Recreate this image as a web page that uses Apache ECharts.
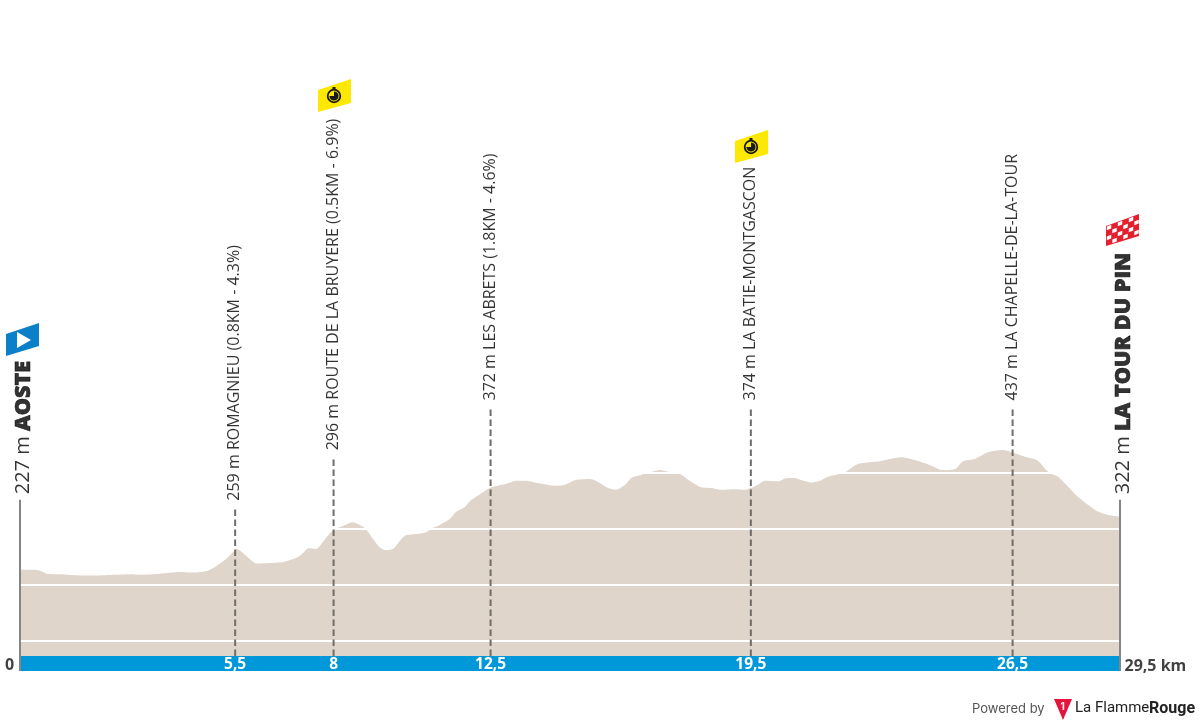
<!DOCTYPE html>
<html>
<head>
<meta charset="utf-8">
<style>html,body{margin:0;padding:0;background:#fff}#c{width:1200px;height:725px}</style>
<script src="https://cdn.jsdelivr.net/npm/echarts@6/dist/echarts.min.js"></script>
</head>
<body>
<div id="c"></div>
<script>
const profileKm = [0,0.40,0.62,0.72,1.07,1.61,2.15,2.55,2.95,3.22,3.75,4.29,4.56,5.01,5.23,5.50,5.69,5.82,6.03,6.36,6.70,7.05,7.43,7.59,7.75,7.94,8.18,8.39,8.72,8.93,9.17,9.33,9.49,9.63,9.79,10.00,10.19,10.32,10.51,10.86,11.08,11.26,11.53,11.69,11.93,12.07,12.39,12.60,13.01,13.33,13.54,13.95,14.35,14.62,14.88,15.29,15.50,15.77,15.96,16.23,16.41,16.63,16.95,17.16,17.38,17.70,17.89,18.24,18.56,18.77,19.17,19.44,19.60,19.79,19.98,20.33,20.57,20.78,20.92,21.24,21.45,21.62,22.12,22.47,23.06,23.63,24.00,24.40,24.73,25.08,25.29,25.61,25.96,26.36,26.60,26.95,27.27,27.54,27.68,27.84,28.11,28.35,28.64,28.88,29.18,29.5];
const profileElevation = [227,227,223,220,219,217,217,218,219,218,220,223,222,225,232,245,257,264,254,238,239,241,249,257,266,264,282,297,307,312,305,295,280,268,262,264,279,288,290,293,302,307,318,330,339,350,364,373,380,386,386,381,377,379,387,389,384,373,370,379,392,396,402,405,402,398,389,375,373,370,371,370,373,379,386,385,391,391,388,383,386,392,401,416,421,428,423,414,405,407,421,425,437,441,437,429,423,404,398,393,375,359,343,332,325,322];
const gridElevations = [100,200,300,400];
const waypointKm = [5.77,8.41,12.62,19.60,26.62];
const waypointTick = ['5,5','8','12,5','19,5','26,5'];
const waypointLeaderTop = [337,427,516,516,516];
const waypointText = ['259 m ROMAGNIEU (0.8KM - 4.3%)','296 m ROUTE DE LA BRUYERE (0.5KM - 6.9%)','372 m LES ABRETS (1.8KM - 4.6%)','374 m LA BATIE-MONTGASCON','437 m LA CHAPELLE-DE-LA-TOUR'];
const endKm = [0,29.5];
const endLeaderTop = [352,352];
const endHeight = ['227 m','322 m'];
const endName = ['AOSTE','LA TOUR DU PIN'];
const endTick = ['0','29,5 km'];

const yMin = 73, yMax = 1000, bandBottom = 46;
const FONT = '"Open Sans"';
const chart = echarts.init(document.getElementById('c'), null, {renderer:'canvas'});

const series = [{
  type:'line', name:'profile', z:2, showSymbol:false, silent:true, smooth:0.25,
  data: profileKm.map((k,i)=>[k,profileElevation[i]]),
  lineStyle:{width:0}, areaStyle:{color:'#dfd5cb',opacity:1,origin:'start'},
  markLine:{silent:true,symbol:'none',z:3,label:{show:false},
    lineStyle:{color:'#ffffff',width:2,type:'solid',opacity:1},
    data:gridElevations.map(v=>({yAxis:v}))}
}];
waypointKm.forEach((k,i)=>series.push({
  type:'line', z:5, showSymbol:false, silent:true, clip:false,
  data:[[k,yMin],[k,waypointLeaderTop[i]]],
  lineStyle:{color:'#716d6a',width:2,type:[6.5,3.5]}
}));
endKm.forEach((k,i)=>series.push({
  type:'line', z:5, showSymbol:false, silent:true, clip:false,
  data:[[k,bandBottom],[k,endLeaderTop[i]]],
  lineStyle:{color:'#858585',width:2,type:'solid'}
}));
series.push({
  type:'scatter', z:6, silent:true, clip:false, symbolSize:1, itemStyle:{color:'transparent'},
  data:waypointKm.map((k,i)=>[k,waypointLeaderTop[i]]),
  label:{show:true,position:[0,-7],rotate:90,align:'left',verticalAlign:'middle',
    fontFamily:FONT,fontSize:16,color:'#000000',
    formatter:p=>waypointText[p.dataIndex]}
});
series.push({
  type:'scatter', z:6, silent:true, clip:false, symbolSize:1, itemStyle:{color:'transparent'},
  data:endKm.map((k,i)=>[k,endLeaderTop[i]]),
  label:{show:true,rotate:90,align:'left',verticalAlign:'middle',position:[4,-5],
    fontFamily:FONT,fontSize:20,color:'#000000',
    formatter:p=>endHeight[p.dataIndex]+' {b|'+endName[p.dataIndex]+'}',
    rich:{b:{fontFamily:FONT,fontSize:21.7,fontWeight:800,color:'#000000',textBorderColor:'#000000',textBorderWidth:0.6}}}
});
series.push({
  type:'scatter', z:6, silent:true, clip:false, symbolSize:1, itemStyle:{color:'transparent'},
  data:[{value:[endKm[0],yMin],label:{position:'left',distance:10,align:'center',offset:[0,9]}},
        {value:[endKm[1],yMin],label:{position:'right',distance:4,align:'left',offset:[0,10]}}],
  label:{show:true,fontFamily:FONT,fontSize:16,fontWeight:700,color:'#111111',
    formatter:p=>endTick[p.dataIndex]}
});

function flag(x0,x1,yTL,yTR,yBR,yBL,fill){
  return {type:'polygon',z:10,silent:true,shape:{points:[[x0,yTL],[x1,yTR],[x1,yBR],[x0,yBL]]},style:{fill}};
}
const graphics = [];
graphics.push(flag(6,39,334,323,346,356,'#0a80c8'));
graphics.push({type:'polygon',z:11,silent:true,shape:{points:[[17,332],[31,340],[17,348]]},style:{fill:'#ffffff'}});
function watch(x0,y0){
  const cx=x0+16, cy=y0+17;
  graphics.push(flag(x0,x0+33,y0+11,y0,y0+24,y0+33,'#fde900'));
  graphics.push({type:'circle',z:11,silent:true,shape:{cx,cy,r:6.3},style:{fill:'#fde900',stroke:'#1a1a1a',lineWidth:1.8}});
  graphics.push({type:'sector',z:12,silent:true,shape:{cx,cy,r:4.6,r0:0,startAngle:-Math.PI/2,endAngle:Math.PI,clockwise:true},style:{fill:'#1a1a1a'}});
  graphics.push({type:'rect',z:11,silent:true,shape:{x:cx-1.5,y:cy-9,width:3,height:2},style:{fill:'#1a1a1a'}});
}
watch(318,79); watch(735,130);
const RX0=1106,RX1=1139;
graphics.push(flag(RX0,RX1,226,214,236,246,'#e5202e'));
const cols=6, rows=4;
for(let c=0;c<cols;c++)for(let r=0;r<rows;r++){
  if((c+r)%2) continue;
  const u0=(c+0.15)/cols,u1=(c+0.95)/cols,v0=(r+0.15)/rows,v1=(r+0.9)/rows;
  const pt=(u,v)=>[RX0+(RX1-RX0)*u,(226+v*20)-12*u];
  graphics.push({type:'polygon',z:11,silent:true,shape:{points:[pt(u0,v0),pt(u1,v0),pt(u1,v1),pt(u0,v1)]},style:{fill:'#ffffff'}});
}
graphics.push({type:'text',z:10,silent:true,left:972,top:703,style:{text:'Powered by',font:'13px Inter',fill:'#555555'}});
graphics.push({type:'polygon',z:10,silent:true,shape:{points:[[1054,699],[1072,699],[1063,720]]},style:{fill:'#e6143c'}});
graphics.push({type:'text',z:11,silent:true,left:1060.5,top:702,style:{text:'1',font:'bold 10px Inter',fill:'#ffffff'}});
graphics.push({type:'text',z:10,silent:true,left:1075,top:701,style:{text:'La Flamme',font:'15px Roboto',fill:'#222222'}});
graphics.push({type:'text',z:10,silent:true,left:1149,top:701,style:{text:'Rouge',font:'bold 16px Roboto',fill:'#222222'}});

chart.setOption({
  animation:false,
  backgroundColor:'#ffffff',
  grid:{left:20,right:80,top:137,bottom:69,containLabel:false},
  xAxis:{type:'value',min:0,max:29.5,offset:7.5,
    axisLine:{show:true,onZero:false,lineStyle:{color:'#0098d8',width:15,cap:'butt'}},
    axisTick:{show:false},splitLine:{show:false},
    axisLabel:{show:true,customValues:waypointKm,margin:1,verticalAlign:'middle',align:'center',
      fontFamily:FONT,fontSize:15.5,fontWeight:700,color:'#ffffff',
      formatter:v=>{const i=waypointKm.indexOf(v);return i>=0?waypointTick[i]:'';}}
  },
  yAxis:{type:'value',min:yMin,max:yMax,show:false,splitLine:{show:false}},
  series,
  graphic:graphics
});
</script>
</body>
</html>
